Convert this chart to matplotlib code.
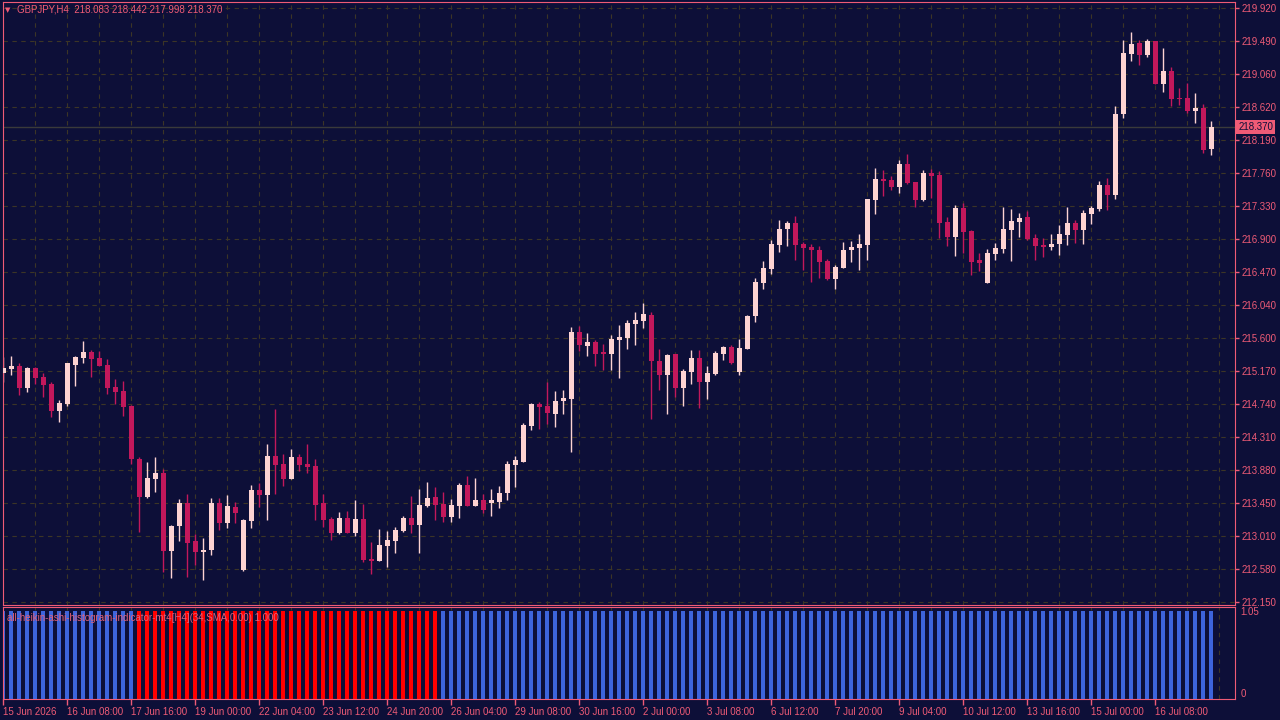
import numpy as np
import matplotlib.pyplot as plt

plt.rcParams['font.family'] = ['Liberation Sans', 'DejaVu Sans']

# GBPJPY H4 candles (open, high, low, close)
opens = [215.15, 215.20, 215.24, 214.95, 215.21, 215.09, 215.00, 214.65, 214.74, 215.25,
         215.34, 215.42, 215.34, 215.25, 214.96, 214.91, 214.72, 214.02, 213.52, 213.76,
         213.84, 212.82, 213.14, 213.44, 212.95, 212.80, 212.83, 213.44, 213.18, 213.39,
         212.57, 213.21, 213.61, 213.55, 214.06, 213.96, 213.76, 214.05, 213.96, 213.93,
         213.44, 213.24, 213.05, 213.25, 213.05, 213.24, 212.71, 212.69, 212.88, 212.95,
         213.08, 213.25, 213.16, 213.41, 213.52, 213.43, 213.26, 213.41, 213.68, 213.41,
         213.48, 213.44, 213.46, 213.58, 213.94, 213.98, 214.45, 214.74, 214.72, 214.61,
         214.78, 214.81, 215.68, 215.50, 215.55, 215.41, 215.40, 215.58, 215.60, 215.79,
         215.83, 215.90, 215.30, 215.12, 215.40, 214.95, 215.16, 215.34, 215.03, 215.13,
         215.40, 215.49, 215.16, 215.46, 215.89, 216.32, 216.51, 216.82, 217.03, 217.11,
         216.83, 216.79, 216.76, 216.61, 216.38, 216.52, 216.75, 216.78, 216.82, 217.41,
         217.68, 217.67, 217.58, 217.88, 217.64, 217.41, 217.76, 217.73, 217.12, 216.93,
         217.30, 217.00, 216.62, 216.32, 216.70, 216.77, 217.02, 217.12, 217.19, 216.91,
         216.82, 216.79, 216.83, 216.95, 217.11, 217.02, 217.23, 217.29, 217.60, 217.47,
         218.53, 219.32, 219.46, 219.31, 219.49, 218.93, 219.10, 218.74, 218.74, 218.57,
         218.61, 218.083]
highs = [215.36, 215.37, 215.28, 215.23, 215.23, 215.15, 215.03, 214.79, 215.28, 215.37,
         215.56, 215.45, 215.43, 215.33, 215.07, 215.04, 214.73, 214.05, 213.98, 214.05,
         213.89, 213.16, 213.50, 213.56, 213.04, 212.99, 213.51, 213.51, 213.55, 213.46,
         213.24, 213.68, 213.71, 214.22, 214.68, 214.09, 214.15, 214.09, 214.22, 214.02,
         213.56, 213.26, 213.33, 213.34, 213.48, 213.43, 212.94, 213.10, 213.08, 213.13,
         213.27, 213.54, 213.63, 213.72, 213.65, 213.59, 213.50, 213.71, 213.80, 213.77,
         213.56, 213.63, 213.67, 214.00, 214.06, 214.49, 214.75, 214.77, 215.03, 214.91,
         214.92, 215.75, 215.76, 215.67, 215.58, 215.53, 215.64, 215.77, 215.84, 215.94,
         216.06, 215.94, 215.46, 215.39, 215.40, 215.20, 215.45, 215.45, 215.24, 215.43,
         215.50, 215.51, 215.59, 215.90, 216.39, 216.61, 216.89, 217.15, 217.13, 217.20,
         216.86, 216.83, 216.81, 216.64, 216.56, 216.86, 216.87, 216.97, 217.42, 217.83,
         217.80, 217.72, 217.93, 218.01, 217.64, 217.80, 217.81, 217.79, 217.19, 217.34,
         217.37, 217.02, 216.72, 216.77, 216.85, 217.32, 217.29, 217.24, 217.27, 216.97,
         216.91, 216.97, 217.08, 217.32, 217.15, 217.28, 217.33, 217.66, 217.70, 218.64,
         219.50, 219.61, 219.50, 219.51, 219.49, 219.40, 219.15, 218.87, 218.94, 218.81,
         218.66, 218.442]
lows = [215.03, 215.12, 214.86, 214.90, 215.00, 214.83, 214.57, 214.51, 214.72, 214.98,
        215.28, 215.09, 215.24, 214.87, 214.74, 214.58, 213.96, 213.07, 213.51, 213.59,
        212.54, 212.46, 212.95, 212.48, 212.63, 212.44, 212.76, 213.09, 213.12, 213.18,
        212.56, 213.12, 213.39, 213.22, 213.56, 213.67, 213.76, 213.86, 213.84, 213.22,
        213.13, 212.96, 213.04, 213.05, 213.01, 212.67, 212.52, 212.69, 212.61, 212.79,
        213.07, 213.05, 212.79, 213.39, 213.22, 213.20, 213.20, 213.25, 213.41, 213.41,
        213.31, 213.27, 213.38, 213.48, 213.65, 213.98, 214.40, 214.41, 214.48, 214.44,
        214.61, 214.11, 215.43, 215.37, 215.24, 215.19, 215.19, 215.08, 215.46, 215.51,
        215.74, 214.55, 214.92, 214.61, 214.83, 214.72, 215.00, 214.69, 214.81, 215.12,
        215.32, 215.26, 215.12, 215.46, 215.81, 216.24, 216.44, 216.73, 216.81, 216.62,
        216.49, 216.34, 216.39, 216.36, 216.24, 216.52, 216.60, 216.49, 216.62, 217.23,
        217.46, 217.54, 217.50, 217.62, 217.32, 217.40, 217.43, 216.91, 216.81, 216.68,
        216.72, 216.43, 216.48, 216.32, 216.62, 216.72, 216.61, 216.93, 216.89, 216.62,
        216.66, 216.76, 216.69, 216.82, 216.85, 216.83, 217.10, 217.26, 217.28, 217.42,
        218.48, 219.23, 219.17, 219.28, 218.93, 218.82, 218.64, 218.65, 218.55, 218.42,
        218.02, 217.998]
closes = [215.21, 215.24, 214.95, 215.21, 215.08, 214.99, 214.65, 214.75, 215.28, 215.36,
          215.42, 215.33, 215.24, 214.95, 214.90, 214.70, 214.02, 213.52, 213.77, 213.84,
          212.82, 213.14, 213.44, 212.92, 212.80, 212.83, 213.44, 213.18, 213.41, 213.31,
          213.22, 213.61, 213.55, 214.06, 213.94, 213.76, 214.05, 213.94, 213.92, 213.42,
          213.22, 213.05, 213.25, 213.05, 213.24, 212.70, 212.69, 212.90, 212.96, 213.09,
          213.25, 213.16, 213.42, 213.51, 213.42, 213.26, 213.42, 213.68, 213.41, 213.48,
          213.35, 213.48, 213.58, 213.96, 214.01, 214.47, 214.74, 214.70, 214.62, 214.78,
          214.82, 215.68, 215.51, 215.55, 215.40, 215.40, 215.59, 215.62, 215.80, 215.84,
          215.92, 215.30, 215.12, 215.38, 214.95, 215.17, 215.34, 215.03, 215.15, 215.41,
          215.49, 215.28, 215.47, 215.89, 216.34, 216.52, 216.83, 217.03, 217.11, 216.82,
          216.78, 216.75, 216.60, 216.38, 216.53, 216.76, 216.80, 216.83, 217.42, 217.68,
          217.66, 217.58, 217.88, 217.63, 217.41, 217.76, 217.72, 217.11, 216.93, 217.30,
          216.99, 216.60, 216.59, 216.72, 216.78, 217.03, 217.14, 217.17, 216.90, 216.81,
          216.79, 216.83, 216.96, 217.11, 217.02, 217.24, 217.30, 217.60, 217.47, 218.53,
          219.33, 219.45, 219.31, 219.49, 218.93, 219.10, 218.73, 218.73, 218.57, 218.61,
          218.06, 218.370]

# histogram: 1 = blue state, 0 = red state
ha_state = [1] * 17 + [0] * 38 + [1] * 97

price_ticks = ['219.920', '219.490', '219.060', '218.620', '218.190', '217.760', '217.330',
               '216.900', '216.470', '216.040', '215.600', '215.170', '214.740', '214.310',
               '213.880', '213.450', '213.010', '212.580', '212.150']
date_labels = ['15 Jun 2026', '16 Jun 08:00', '17 Jun 16:00', '19 Jun 00:00', '22 Jun 04:00',
               '23 Jun 12:00', '24 Jun 20:00', '26 Jun 04:00', '29 Jun 08:00', '30 Jun 16:00',
               '2 Jul 00:00', '3 Jul 08:00', '6 Jul 12:00', '7 Jul 20:00', '9 Jul 04:00',
               '10 Jul 12:00', '13 Jul 16:00', '15 Jul 00:00', '16 Jul 08:00']

bg = '#0d0f38'
fg = '#ef5b76'
bull = '#fdd3d2'
bear = '#c2185b'
grid_c = '#3c3526'

o = np.array(opens); h = np.array(highs); l = np.array(lows); c = np.array(closes)
x = np.arange(len(o))
up = c >= o

fig = plt.figure(figsize=(12.8, 7.2), dpi=100, facecolor=bg)
W, H = 1280, 720
ax = fig.add_axes([3 / W, 1 - 605 / H, 1232 / W, 603 / H], facecolor=bg)
ax2 = fig.add_axes([3 / W, 1 - 699 / H, 1232 / W, 92 / H], facecolor=bg)

xlim = (-0.04, 153.96)

# grid
yt = np.linspace(float(price_ticks[0]), float(price_ticks[-1]), len(price_ticks))
for v in yt:
    ax.axhline(v, color=grid_c, lw=0.8, ls=(0, (4, 4)), zorder=0)
for gx in range(0, 156, 4):
    ax.axvline(gx, color=grid_c, lw=0.8, ls=(0, (4, 4)), zorder=0)
    ax2.axvline(gx, color=grid_c, lw=0.8, ls=(0, (4, 4)), zorder=0)

# current price line
ax.axhline(c[-1], color='#3a3a3a', lw=1, zorder=1)

# candles
cols = np.where(up, bull, bear)
ax.vlines(x, l, h, colors=cols, lw=1, zorder=2)
body_lo = np.minimum(o, c)
body_h = np.maximum(np.abs(c - o), 0.014)
ax.bar(x, body_h, bottom=body_lo, width=0.62, color=cols, lw=0, zorder=3)

ax.set_xlim(*xlim)
ax.set_ylim(212.11, 220.0)
ax.yaxis.tick_right()
ax.set_yticks(yt)
ax.set_yticklabels(price_ticks)
ax.set_xticks([])
ax.tick_params(axis='y', colors=fg, labelcolor=fg, labelsize=7, length=3, width=1, pad=2)
for s in ax.spines.values():
    s.set_color(fg)

# last price label
ax.text(1.0025, c[-1], '218.370', transform=ax.get_yaxis_transform(), fontsize=7,
        color=bg, va='center', ha='left',
        bbox=dict(boxstyle='square,pad=0.2', fc=fg, ec='none'), zorder=5)

# title
fig.text(5 / W, 1 - 10 / H, '\u25bc', fontsize=5, color=fg, va='center', ha='left',
         family='DejaVu Sans')
fig.text(17 / W, 1 - 10 / H, 'GBPJPY,H4  218.083 218.442 217.998 218.370', fontsize=7,
         color=fg, va='center', ha='left')

# histogram panel
hcols = ['#3d64dc' if s == 1 else '#ff0000' for s in ha_state]
ax2.bar(x, [1] * len(ha_state), width=0.5, color=hcols, lw=0, zorder=2)
ax2.set_xlim(*xlim)
ax2.set_ylim(0, 1.05)
ax2.yaxis.tick_right()
ax2.set_yticks([1.05, 0])
ax2.set_yticklabels(['1.05', '0'])
for lab, va in zip(ax2.get_yticklabels(), ['top', 'bottom']):
    lab.set_va(va)
ax2.tick_params(axis='y', colors=fg, labelcolor=fg, labelsize=7, length=0, pad=4)
ax2.set_xticks(np.arange(0, 152, 8))
ax2.set_xticklabels(date_labels, ha='left')
ax2.tick_params(axis='x', colors=fg, labelcolor=fg, labelsize=7, length=4, width=1, pad=2)
for s in ax2.spines.values():
    s.set_color(fg)
ax2.text(4 / 1232, 0.93, 'all-heikin-ashi-histogram-indicator-mt4[H4](34,SMA,0.00) 1.000',
         transform=ax2.transAxes, fontsize=7, color='#e0607a', va='top', ha='left',
         zorder=5)

fig.savefig('out.png', dpi=100, facecolor=bg)
